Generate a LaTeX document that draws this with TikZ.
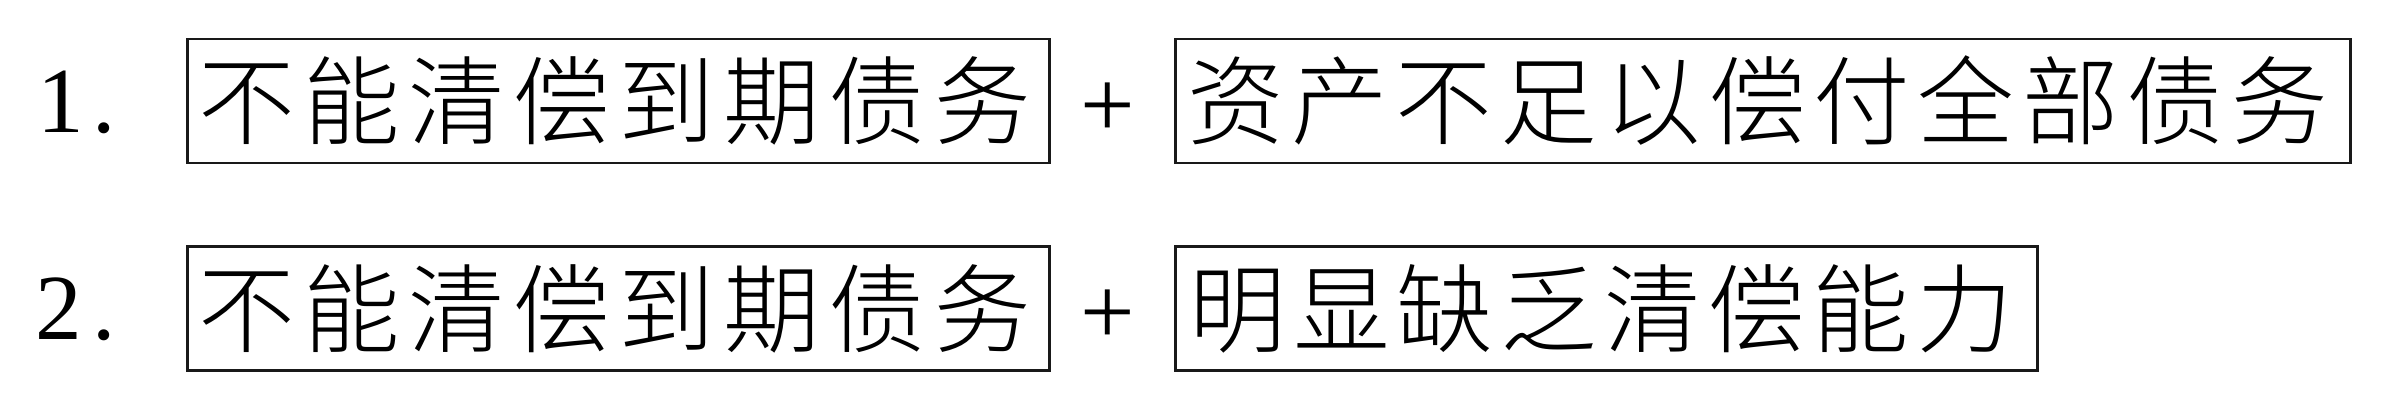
\documentclass[tikz,border=0pt]{standalone}
\usepackage{fontspec}
\setmainfont{Liberation Serif}
\IfFontExistsTF{Noto Sans CJK SC Light}
  {\newfontfamily\cjk{Noto Sans CJK SC Light}}
  {\newfontfamily\cjk{Noto Sans CJK SC}}
\makeatletter
\def\spr@end{\spr@end}
\def\spr@#1{\ifx\spr@end#1\else\hfill#1\expandafter\spr@\fi}
\def\spr@first#1{#1\spr@}
% spread the characters of #3 over width #1, then add a kern #2 on the right
\newcommand\spreadto[3]{\makebox[#1][s]{\spr@first#3\spr@end}\kern#2}
\makeatother
\tikzset{
  termbox/.style={draw=black!90, line width=0.028cm, inner sep=0pt,
    minimum height=1.24cm, font=\cjk\fontsize{27.5}{33}\selectfont},
  numlbl/.style={anchor=base west, inner sep=0pt, font=\fontsize{26.5}{30}\selectfont},
  plussign/.style={inner sep=0pt, font=\fontsize{27.5}{30}\selectfont}
}
\begin{document}
\begin{tikzpicture}[x=0.01cm,y=-0.01cm]
\useasboundingbox (0,0) rectangle (2404,410);
\fill[white] (0,0) rectangle (2404,410);
% row 1
\node[numlbl] (n1) at (37,133) {1\kern0.085cm.};
\node[termbox, minimum width=8.61cm] (b1) at (618.5,101) {\spreadto{8.32cm}{0.08cm}{不能清偿到期债务}};
\node[plussign] (p1) at (1108,110) {+};
\node[termbox, minimum width=11.74cm] (b2) at (1763,101) {\spreadto{11.40cm}{0.11cm}{资产不足以偿付全部债务}};
% row 2
\node[numlbl] (n2) at (35,340) {2\kern0.1cm.};
\node[termbox, minimum width=8.61cm] (b3) at (618.5,308.5) {\spreadto{8.32cm}{0.08cm}{不能清偿到期债务}};
\node[plussign] (p2) at (1108,317) {+};
\node[termbox, minimum width=8.61cm] (b4) at (1606.5,308.5) {\spreadto{8.23cm}{0.11cm}{明显缺乏清偿能力}};
\end{tikzpicture}
\end{document}
